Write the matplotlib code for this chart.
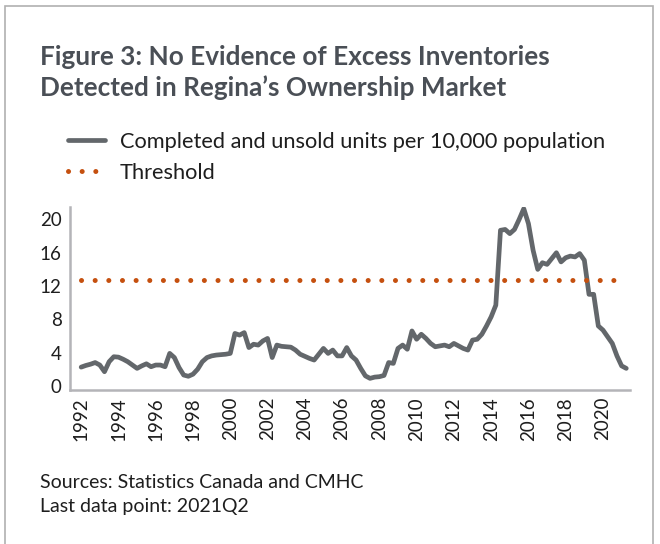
import numpy as np
import matplotlib
matplotlib.use("Agg")
import matplotlib.pyplot as plt
from matplotlib.patches import Rectangle

plt.rcParams['font.family'] = ['Lato', 'DejaVu Sans']

# quarterly, 1992Q1 .. 2021Q2
unsold = [2.25, 2.45, 2.6, 2.8, 2.5, 1.7, 2.9, 3.5, 3.45, 3.2,
          2.9, 2.5, 2.1, 2.4, 2.65, 2.3, 2.5, 2.5, 2.3, 3.9,
          3.4, 2.2, 1.3, 1.15, 1.4, 2.0, 2.9, 3.4, 3.6, 3.7,
          3.75, 3.8, 3.9, 6.3, 6.1, 6.4, 4.6, 5.0, 4.9, 5.4,
          5.7, 3.4, 4.9, 4.75, 4.7, 4.65, 4.3, 3.8, 3.55, 3.3,
          3.1, 3.8, 4.5, 3.9, 4.3, 3.6, 3.6, 4.6, 3.6, 3.1,
          2.1, 1.2, 0.9, 1.05, 1.1, 1.25, 2.8, 2.7, 4.5, 4.9,
          4.4, 6.6, 5.6, 6.2, 5.7, 5.1, 4.7, 4.8, 4.9, 4.7,
          5.1, 4.8, 4.5, 4.3, 5.5, 5.6, 6.2, 7.2, 8.3, 9.7,
          18.7, 18.8, 18.3, 18.8, 20.0, 21.3, 19.5, 16.3, 14.0, 14.8,
          14.6, 15.3, 16.0, 14.9, 15.4, 15.6, 15.5, 15.9, 15.1, 11.0,
          11.0, 7.2, 6.7, 5.9, 5.1, 3.6, 2.4, 2.1]
threshold = 12.7
start_year = 1992
years = start_year + np.arange(len(unsold)) / 4.0
year_ticks = list(range(1992, 2021, 2))
y_ticks = [0, 4, 8, 12, 16, 20]

title = "Figure 3: No Evidence of Excess Inventories\nDetected in Regina\u2019s Ownership Market"
line_label = "Completed and unsold units per 10,000 population"
thr_label = "Threshold"
notes = "Sources: Statistics Canada and CMHC\nLast data point: 2021Q2"

gray = "#63676b"
orange = "#c5500f"
spine_col = "#b4b4b8"
text_col = "#1e1e1e"

fig = plt.figure(figsize=(6.6, 5.44), dpi=100)
fig.patches.append(Rectangle((5 / 660, -0.01), 648 / 660, 1 - 6 / 544 + 0.01,
                             transform=fig.transFigure, fill=False,
                             edgecolor="#b0b0b0", linewidth=1.2))

ax = fig.add_axes([70 / 660, 1 - 390 / 544, 560 / 660, 183 / 544])
ln1, = ax.plot(years, unsold, color=gray, linewidth=3.4,
               solid_joinstyle="round", solid_capstyle="round")
ln2, = ax.plot(years, [threshold] * len(years), color=orange, linewidth=3.6,
               linestyle=(0, (0.01, 2.72)), dash_capstyle="round")

ax.set_xlim(1991.4, 2021.45)
ax.set_ylim(-0.5, 21.5)
ax.set_xticks(year_ticks)
ax.set_xticklabels([str(y) for y in year_ticks], rotation=90)
ax.set_yticks(y_ticks)
ax.tick_params(length=0, labelsize=13.5, colors=text_col, pad=5)
ax.tick_params(axis="y", pad=6)
for s in ["top", "right"]:
    ax.spines[s].set_visible(False)
for s in ["left", "bottom"]:
    ax.spines[s].set_color(spine_col)
    ax.spines[s].set_linewidth(1.8)

fig.text(40 / 660, 1 - 45 / 544, title, fontsize=18.8, fontweight="bold",
         color="#4a4f56", va="top", ha="left", linespacing=1.3)

fig.legend([ln1, ln2], [line_label, thr_label], loc="upper left",
           bbox_to_anchor=(59 / 660, 1 - 123 / 544), frameon=False,
           fontsize=15.7, handlelength=1.7, handletextpad=0.7,
           labelspacing=0.5, labelcolor=text_col, borderaxespad=0)

fig.text(40 / 660, 1 - 474 / 544, notes, fontsize=14, color=text_col,
         va="top", ha="left", linespacing=1.5)

fig.savefig("out.png", dpi=100)
